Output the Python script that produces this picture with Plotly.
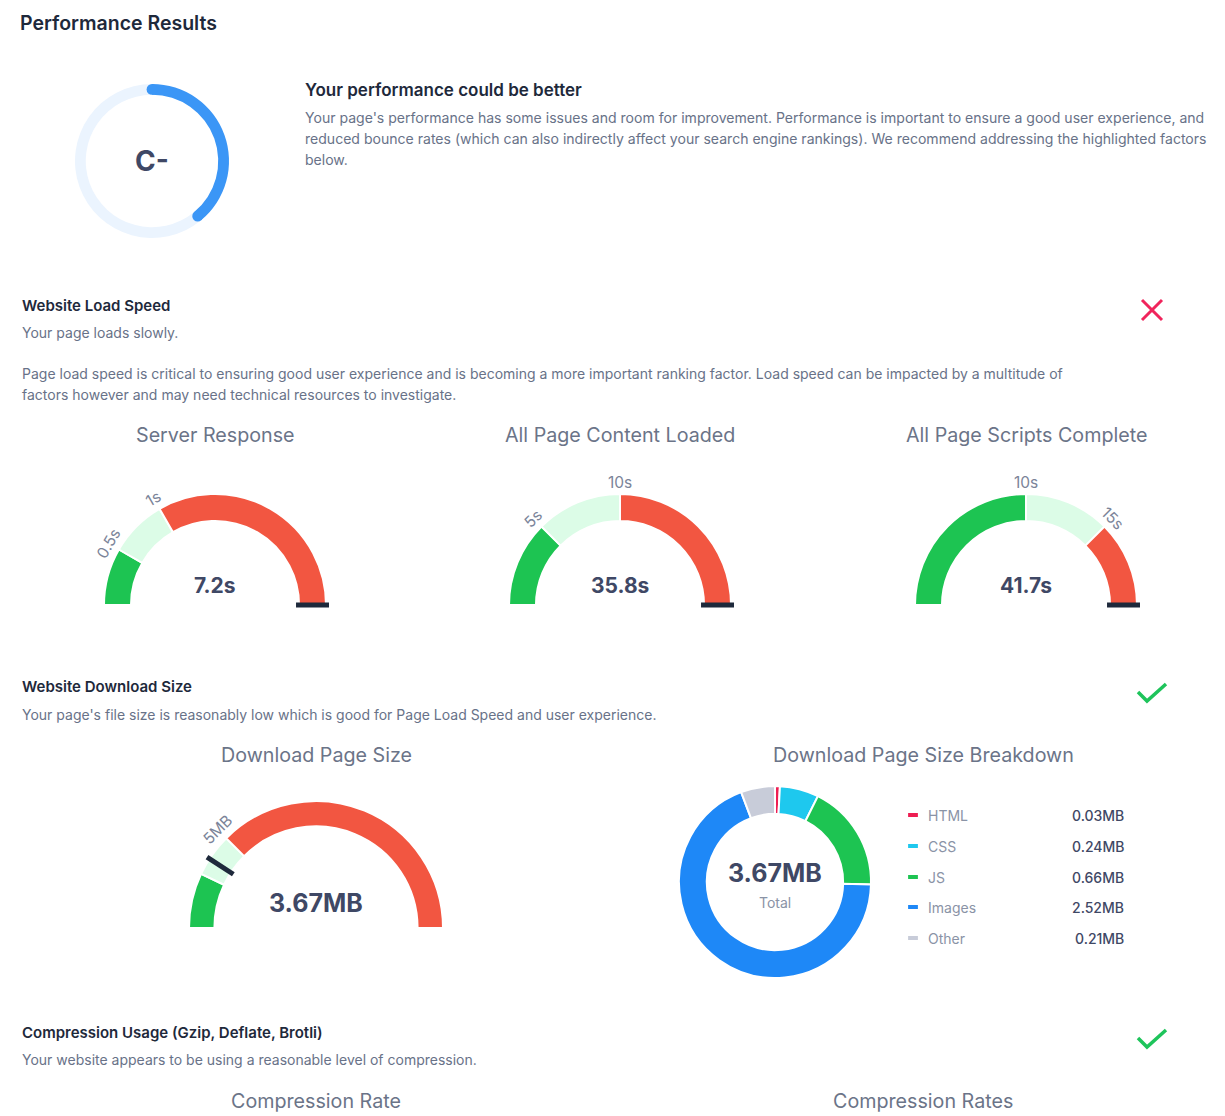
import math
import plotly.graph_objects as go

W, H = 1225, 1116
FONT = "Inter"
DARK = "#1e293b"
GRAY = "#687288"
TITLE_GRAY = "#6b7488"
TICK_GRAY = "#7b8499"
VALUE_COLOR = "#3f4865"
GREEN = "#1dc452"
LIGHT = "#dcfce7"
RED = "#f25641"
MARK = "#1e293b"
SCORE_BLUE = "#3b96f6"

# ---------------- data ----------------
score_grade = "C-"
score_pct = 39

load_titles = ["Server Response", "All Page Content Loaded", "All Page Scripts Complete"]
load_values = [7.2, 35.8, 41.7]
load_units = ["s", "s", "s"]
load_thresholds = [[0.5, 1], [5, 10], [10, 15]]
load_threshold_labels = [["0.5s", "1s"], ["5s", "10s"], ["10s", "15s"]]
load_max = [3, 20, 20]

size_title = "Download Page Size"
size_value = 3.67
size_thresholds = [2.8, 5]
size_threshold_labels = ["", "5MB"]
size_max = 20

breakdown_labels = ["HTML", "CSS", "JS", "Images", "Other"]
breakdown_values = [0.03, 0.24, 0.66, 2.52, 0.21]
breakdown_colors = ["#ee1d52", "#1ec8ee", "#1dc452", "#1e88f7", "#c8ccd9"]
breakdown_total = 3.67

# ---------------- helpers ----------------
fig = go.Figure()
ann = []
shapes = []
PAD = 2  # annotation box padding compensation


def dom(cx, cy, r):
    return dict(x=[(cx - r) / W, (cx + r) / W], y=[1 - (cy + r) / H, 1 - (cy - r) / H])


def text(x, y, s, size=14, color=GRAY, weight=400, xanchor="left", angle=0):
    if xanchor == "left":
        x -= PAD
    elif xanchor == "right":
        x += PAD
    ann.append(dict(x=x, y=y, xref="x", yref="y", text=s, showarrow=False,
                    xanchor=xanchor, yanchor="middle", textangle=angle,
                    font=dict(family=FONT, size=size, color=color, weight=weight)))


def gauge(cx, cy, r_out, hole, thresholds, labels, vmax, value, value_text, value_size, value_dy):
    bounds = [0] + list(thresholds) + [vmax]
    segs = [bounds[i + 1] - bounds[i] for i in range(len(bounds) - 1)]
    vals = segs + [vmax]
    cols = [GREEN, LIGHT, RED, "rgba(0,0,0,0)"]
    fig.add_trace(go.Pie(values=vals, domain=dom(cx, cy, r_out), hole=hole, sort=False,
                         direction="clockwise", rotation=-90, textinfo="none",
                         hoverinfo="skip", showlegend=False,
                         marker=dict(colors=cols, line=dict(color="white", width=[2, 2, 2, 0]))))
    r_in = r_out * hole
    for t, lab in zip(thresholds, labels):
        if not lab:
            continue
        a = math.pi * (1 - t / vmax)
        rr = r_out + 12
        text(cx + rr * math.cos(a), cy - rr * math.sin(a), lab, size=15.5, color=TICK_GRAY,
             xanchor="center", angle=90 - math.degrees(a))
    a = math.pi * (1 - min(value, vmax) / vmax)
    r1, r2 = r_in - 3, r_out + 3
    shapes.append(dict(type="line", xref="x", yref="y",
                       x0=cx + r1 * math.cos(a), y0=cy - r1 * math.sin(a),
                       x1=cx + r2 * math.cos(a), y1=cy - r2 * math.sin(a),
                       line=dict(color=MARK, width=5)))
    text(cx, cy - value_dy, value_text, size=value_size, color=VALUE_COLOR,
         weight=700, xanchor="center")


# ---------------- header ----------------
text(20, 23, "Performance Results", size=19.5, color=DARK, weight=600)

SC_X, SC_Y, SC_R, SC_HOLE = 152, 161, 77, 0.86
fig.add_trace(go.Pie(values=[score_pct, 100 - score_pct], domain=dom(SC_X, SC_Y, SC_R), hole=SC_HOLE,
                     sort=False, direction="clockwise", rotation=0, textinfo="none",
                     hoverinfo="skip", showlegend=False,
                     marker=dict(colors=[SCORE_BLUE, "#ebf4fe"], line=dict(width=0))))
# rounded caps of the score arc (shapes drawn above the pie layer)
rm = SC_R * (1 + SC_HOLE) / 2
cap_r = SC_R * (1 - SC_HOLE) / 2
for t in [0, score_pct / 100 * 2 * math.pi]:
    px, py = SC_X + rm * math.sin(t), SC_Y - rm * math.cos(t)
    shapes.append(dict(type="circle", xref="x", yref="y", layer="above",
                       x0=px - cap_r, x1=px + cap_r, y0=py - cap_r, y1=py + cap_r,
                       fillcolor=SCORE_BLUE, line=dict(width=0)))
text(SC_X, SC_Y, score_grade, size=28, color=VALUE_COLOR, weight=700, xanchor="center")

text(305, 90, "Your performance could be better", size=17, color=DARK, weight=600)
text(305, 117, "Your page's performance has some issues and room for improvement. Performance is important to ensure a good user experience, and", size=14.05)
text(305, 138, "reduced bounce rates (which can also indirectly affect your search engine rankings). We recommend addressing the highlighted factors", size=14.05)
text(305, 159, "below.", size=14.05)

# ---------------- load speed ----------------
text(22, 305, "Website Load Speed", size=15, color=DARK, weight=600)
text(22, 332, "Your page loads slowly.", size=14)
text(22, 373, "Page load speed is critical to ensuring good user experience and is becoming a more important ranking factor. Load speed can be impacted by a multitude of", size=14)
text(22, 394, "factors however and may need technical resources to investigate.", size=14)

# red cross icon
shapes.append(dict(type="path", xref="x", yref="y", path="M1142,300 L1162,320 M1162,300 L1142,320",
                   line=dict(color="#f0245c", width=3)))

centers = [215, 620, 1026]
for cx, tt, v, u, th, lb, mx in zip(centers, load_titles, load_values, load_units,
                                    load_thresholds, load_threshold_labels, load_max):
    text(cx, 435, tt, size=19.7, color=TITLE_GRAY, xanchor="center")
    gauge(cx, 605, 111, 0.757, th, lb, mx, v, f"{v}{u}", 21, 20)

# ---------------- download size ----------------
text(22, 686, "Website Download Size", size=15, color=DARK, weight=600)
text(22, 714, "Your page's file size is reasonably low which is good for Page Load Speed and user experience.", size=14)
shapes.append(dict(type="path", xref="x", yref="y", path="M1138,692 L1147,701 L1166,684",
                   line=dict(color="#1ec45b", width=3.5)))

text(316, 755, size_title, size=19.7, color=TITLE_GRAY, xanchor="center")
gauge(316, 928, 127, 0.80, size_thresholds, size_threshold_labels, size_max, size_value,
      f"{size_value}MB", 25, 25)

text(923, 755, "Download Page Size Breakdown", size=19.7, color=TITLE_GRAY, xanchor="center")
fig.add_trace(go.Pie(values=breakdown_values, labels=breakdown_labels, domain=dom(775, 882, 96),
                     hole=0.71, sort=False, direction="clockwise", rotation=0, textinfo="none",
                     hoverinfo="skip", showlegend=False,
                     marker=dict(colors=breakdown_colors, line=dict(color="white", width=2))))
text(775, 873, f"{breakdown_total}MB", size=25, color=VALUE_COLOR, weight=700, xanchor="center")
text(775, 902, "Total", size=14, color="#8a93a6", xanchor="center")

rows_y = [815, 846, 877, 907, 938]
fig.add_trace(go.Scatter(x=[913] * len(rows_y), y=rows_y, mode="markers", hoverinfo="skip",
                         showlegend=False,
                         marker=dict(symbol="line-ew", size=7,
                                     line=dict(color=breakdown_colors, width=4))))
for yy, lab, val in zip(rows_y, breakdown_labels, breakdown_values):
    text(928, yy, lab, size=14, color="#8a93a6")
    text(1124, yy, f"{val:.2f}MB", size=14, color=VALUE_COLOR, weight=500, xanchor="right")

# ---------------- compression ----------------
text(22, 1032, "Compression Usage (Gzip, Deflate, Brotli)", size=15, color=DARK, weight=600)
text(22, 1059, "Your website appears to be using a reasonable level of compression.", size=14)
shapes.append(dict(type="path", xref="x", yref="y", path="M1138,1038 L1147,1047 L1166,1030",
                   line=dict(color="#1ec45b", width=3.5)))
text(316, 1101, "Compression Rate", size=19.7, color=TITLE_GRAY, xanchor="center")
text(923, 1101, "Compression Rates", size=19.7, color=TITLE_GRAY, xanchor="center")

fig.update_layout(
    width=W, height=H, margin=dict(l=0, r=0, t=0, b=0),
    paper_bgcolor="white", plot_bgcolor="white",
    xaxis=dict(range=[0, W], visible=False, fixedrange=True),
    yaxis=dict(range=[H, 0], visible=False, fixedrange=True),
    annotations=ann, shapes=shapes, showlegend=False,
)
fig.write_html("out.html")
